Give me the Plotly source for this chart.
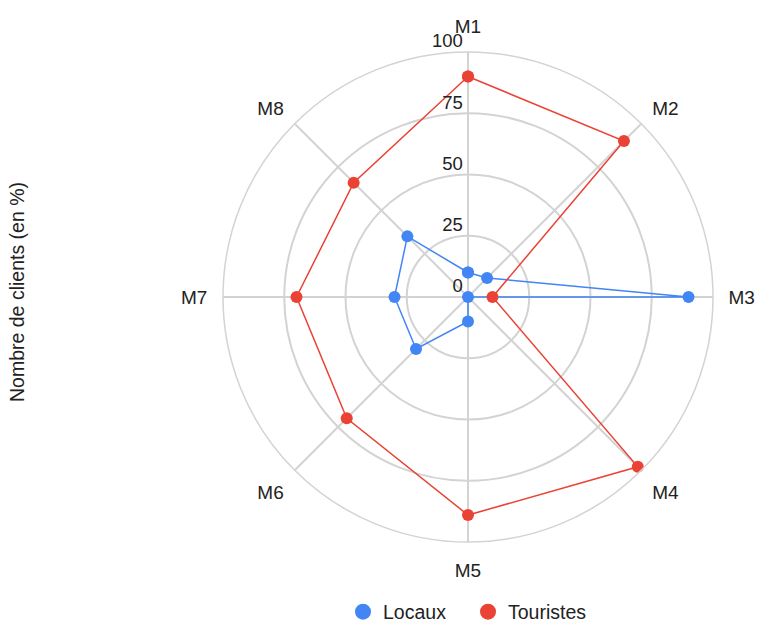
import plotly.graph_objects as go

categories = ["M1", "M2", "M3", "M4", "M5", "M6", "M7", "M8"]
locaux = [10, 11, 90, 0, 10, 30, 30, 35]
touristes = [90, 90, 10, 98, 89, 70, 70, 66]
radial_ticks = [0, 25, 50, 75, 100]

W, H = 757, 629
cx, cy, R = 468, 297, 245

BLUE = "#4285F4"
RED = "#EA4335"
GRID = "#d3d3d3"
TXT = "#222222"
FAM = "Arial, Liberation Sans, Helvetica, sans-serif"
FS = 19.5


def closed(v):
    return list(v) + [v[0]]


fig = go.Figure()
for name, vals, col in [("Locaux", locaux, BLUE), ("Touristes", touristes, RED)]:
    fig.add_trace(go.Scatterpolar(
        r=closed(vals), theta=closed(categories), name=name,
        mode="lines+markers", legendgroup=name, showlegend=False,
        line=dict(color=col, width=1.5),
        marker=dict(color=col, size=12),
    ))

# radial tick labels drawn above-left of each ring along the M1 spoke
fig.add_trace(go.Scatterpolar(
    r=radial_ticks, theta=[categories[0]] * len(radial_ticks),
    mode="text", text=[str(t) + "\u00a0" for t in radial_ticks],
    textposition="top left", textfont=dict(family=FAM, size=18.5, color=TXT),
    showlegend=False, hoverinfo="skip",
))

# legend entries (circle only)
for name, col in [("Locaux", BLUE), ("Touristes", RED)]:
    fig.add_trace(go.Scatterpolar(
        r=[None], theta=[categories[0]], name=name, legendgroup=name,
        mode="markers", marker=dict(color=col, size=17), showlegend=True,
    ))

fig.update_layout(
    width=W, height=H,
    margin=dict(l=0, r=0, t=0, b=0, autoexpand=False),
    paper_bgcolor="white",
    font=dict(family=FAM, size=FS, color=TXT),
    polar=dict(
        domain=dict(x=[(cx - R) / W, (cx + R) / W], y=[1 - (cy + R) / H, 1 - (cy - R) / H]),
        bgcolor="white",
        angularaxis=dict(
            rotation=90, direction="clockwise",
            showline=True, linecolor=GRID, linewidth=1.5,
            gridcolor=GRID, gridwidth=1.5,
            ticks="outside", ticklen=11, tickcolor="rgba(0,0,0,0)",
            tickfont=dict(family=FAM, size=19, color=TXT),
            categoryorder="array", categoryarray=categories,
        ),
        radialaxis=dict(
            range=[0, 100], tickvals=radial_ticks,
            angle=90, showticklabels=False,
            showline=False, ticks="",
            gridcolor=GRID, gridwidth=1.5,
        ),
    ),
    showlegend=True,
    legend=dict(orientation="h", x=cx / W, xanchor="center", y=1 - 612 / H, yanchor="middle",
                font=dict(family=FAM, size=FS, color=TXT), itemsizing="trace",
                traceorder="normal", entrywidth=80, entrywidthmode="pixels"),
    annotations=[dict(
        text="Nombre de clients (en %)", textangle=-90,
        x=17 / W, y=1 - 292 / H, xref="paper", yref="paper",
        xanchor="center", yanchor="middle",
        showarrow=False, font=dict(family=FAM, size=FS, color=TXT),
    )],
)

fig.write_html(
    "out.html",
    config={"displayModeBar": False},
    post_script="document.body.style.margin='0';document.body.style.overflow='hidden';",
)
